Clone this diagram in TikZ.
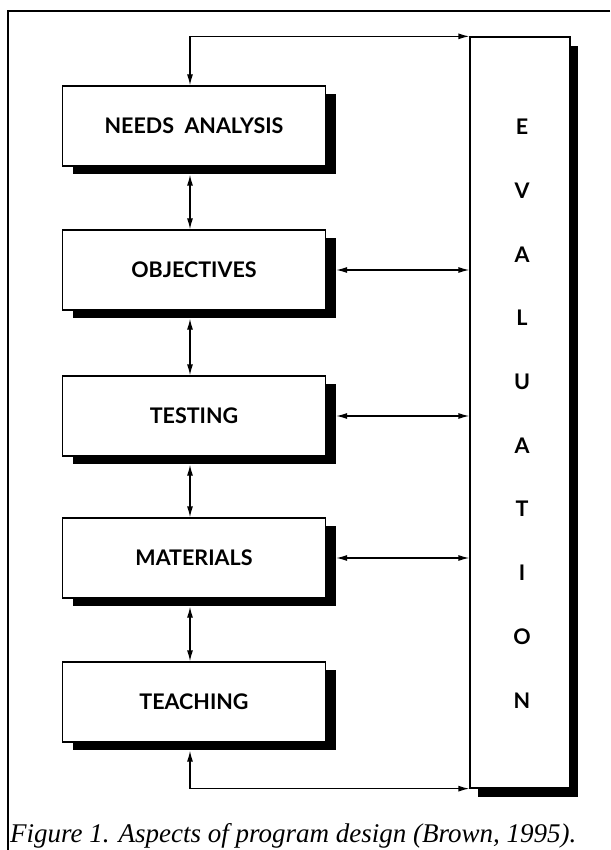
\documentclass[tikz,border=0pt]{standalone}
\usepackage{fontspec}
\setmainfont{Liberation Serif}
\newfontfamily\boxfont{Lato}
\usetikzlibrary{arrows.meta,shadows}

\begin{document}
\begin{tikzpicture}[x=1pt, y=-1pt,
        >={Latex[length=11pt,width=6pt]},
        stage/.style={draw, line width=1.3pt, fill=white, minimum width=263pt, minimum height=80pt,
            font=\boxfont\bfseries\fontsize{21.5}{23}\selectfont,
            general shadow={fill=black, shadow xshift=10pt, shadow yshift=-8pt}},
        link/.style={<->, line width=1.3pt}]
    \useasboundingbox (0,0) rectangle (610,850);

    % outer frame
    \draw[line width=1.3pt] (610,11) -- (8,11) -- (8,850);

    \node[stage] (needs) at (194,126) {NEEDS\ \ ANALYSIS};
    \node[stage] (obj) at (194,270) {OBJECTIVES};
    \node[stage] (test) at (194,416) {TESTING};
    \node[stage] (mat) at (194,558) {MATERIALS};
    \node[stage] (teach) at (194,702) {TEACHING};

    \node[draw, line width=1.3pt, fill=white, minimum width=100pt, minimum height=751pt,
        general shadow={fill=black, shadow xshift=8pt, shadow yshift=-9pt}] (eval) at (520,412.5) {};
    \foreach \l [count=\i from 0] in {E,V,A,L,U,A,T,I,O,N}
        \node[font=\boxfont\bfseries\fontsize{21.5}{23}\selectfont] (ev\i) at (522,127+63.7*\i) {\l};

    % links down the column
    \draw[link] ([xshift=-4pt,yshift=-8pt]needs.south) -- ([xshift=-4pt]obj.north);
    \draw[link] ([xshift=-4pt,yshift=-8pt]obj.south) -- ([xshift=-4pt]test.north);
    \draw[link] ([xshift=-4pt,yshift=-8pt]test.south) -- ([xshift=-4pt]mat.north);
    \draw[link] ([xshift=-4pt,yshift=-8pt]mat.south) -- ([xshift=-4pt]teach.north);

    % links to evaluation
    \draw[link] ([xshift=10pt]obj.east) -- (obj.east -| eval.west);
    \draw[link] ([xshift=10pt]test.east) -- (test.east -| eval.west);
    \draw[link] ([xshift=10pt]mat.east) -- (mat.east -| eval.west);
    \draw[link] ([xshift=-4pt]needs.north) |- (eval.north west);
    \draw[link] ([xshift=-4pt,yshift=-8pt]teach.south) |- (eval.south west);

    \node[anchor=base west, font=\itshape\fontsize{27}{29}\selectfont, inner sep=0pt] (cap) at (10,842)
        {Figure 1. Aspects of program design (Brown, 1995).};
\end{tikzpicture}
\end{document}
